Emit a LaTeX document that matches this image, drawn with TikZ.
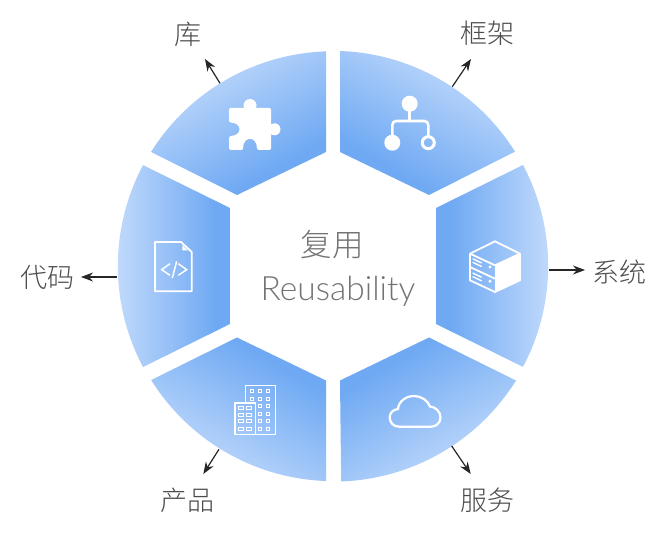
\documentclass[tikz,border=0pt]{standalone}
\usepackage{fontspec}
\usetikzlibrary{arrows.meta}
\newfontfamily\cjk{Noto Sans CJK SC Light}
\newfontfamily\latinlight{Lato Light}
\definecolor{lightblue}{HTML}{C6DDFC}
\definecolor{darkblue}{HTML}{6FA9F3}
\pgfdeclareverticalshading{sectorfade}{100bp}{color(0bp)=(darkblue); color(25bp)=(darkblue); color(31bp)=(darkblue); color(75bp)=(lightblue); color(100bp)=(lightblue)}
\tikzset{
	outlabel/.style={inner sep=0pt, text=black!70, font=\fontsize{27}{27}\selectfont\cjk},
	pointer/.style={line width=1.2pt, color=black!85, -{Stealth[length=12pt, width=9pt]}},
	iconline/.style={draw=white, line width=1.8pt, line join=round},
	thinline/.style={draw=white, line width=1pt}
}
\begin{document}
\begin{tikzpicture}[x=1pt, y=-1pt]
	\useasboundingbox (0, 0) rectangle (670, 548);
	\foreach \ang/\sx/\sy/\arcs/\arce/\ax/\ay/\bx/\by in {
		30/151/152/212.1/268.1/326/152/237/195,
		-30/340/51/271.9/327.9/429/195/340/152,
		-90/523/165/332/388/436/324/436/208,
		-150/516/380.5/32/88/340/380.5/429/337.5,
		150/326/481/92/148/237/337.5/326/380.5,
		90/143/367/152/208/230/208/230/324}
		\shade[shading=sectorfade, shading angle=\ang] (\sx, \sy) arc[start angle=\arcs, end angle=\arce, radius=215] -- (\ax, \ay) -- (\bx, \by) -- cycle;

	\node[inner sep=0pt, text=black!55, font=\fontsize{31.5}{31.5}\selectfont\cjk] (titlecn) at (332, 245) {复用};
	\node[inner sep=0pt, text=black!55, font=\fontsize{33.5}{33.5}\selectfont\latinlight] (titleen) at (338, 291) {Reusability};

	\foreach \name/\txt/\lx/\ly/\fx/\fy/\px/\py in {
		lib/库/188/34/220/83.3/205/59,
		frame/框架/487/33/452.3/86.7/471/59,
		system/系统/619/272/549/270/585/270,
		code/代码/47/277/117/277/81/277,
		product/产品/187.5/500/219/449.3/203.3/474,
		service/服务/487/500/451.7/446/470.7/474}
	{
		\node[outlabel] (\name) at (\lx, \ly) {\txt};
		\coordinate (\name from) at (\fx, \fy);
		\coordinate (\name tip) at (\px, \py);
		\draw[pointer] (\name from) -- (\name tip);
	}

	% puzzle
	\fill[white, rounded corners=1.5pt] (229, 108) -- (271, 108) -- (271, 150) -- (257, 150) .. controls (257, 135.5) and (243, 135.5) .. (243, 150) -- (229, 150) -- (229, 136) .. controls (242.5, 136) and (242.5, 122.5) .. (229, 122.5) -- cycle;
	\fill[white] (250, 105.5) circle[radius=6.5];
	\fill[white] (274.5, 129.3) circle[radius=6];

	% tree
	\fill[white] (409.7, 103.7) circle[radius=8];
	\fill[white] (392.3, 142.7) circle[radius=8];
	\draw[white, line width=3pt] (428.3, 142.7) circle[radius=6];
	\draw[white, line width=2.6pt, rounded corners=4pt] (392.3, 140) -- (392.3, 121) -- (428.3, 121) -- (428.3, 136);
	\draw[white, line width=2.6pt] (409.7, 108) -- (409.7, 121);

	% server
	\draw[iconline] (495, 241.3) -- (520, 253.7) -- (520, 280.3) -- (495, 292) -- (470, 280.3) -- (470, 253.7) -- cycle;
	\draw[iconline] (470, 253.7) -- (495, 265.3) -- (520, 253.7);
	\fill[white] (495, 265.3) -- (520, 253.7) -- (520, 280.3) -- (495, 292) -- cycle;
	\draw[iconline] (470, 267) -- (495, 278.7);
	\foreach \dy in {0, 14.3} {
		\draw[thinline, line width=1.4pt] (472.7, 258.7+\dy) -- (481.7, 263+\dy);
		\draw[thinline, line width=1.4pt] (472.7, 262.3+\dy) -- (481.7, 266.6+\dy);
		\fill[white] (490, 267+\dy) circle[radius=1.6];
	}

	% file
	\draw[iconline] (155, 242) -- (181, 242) -- (191.7, 252) -- (191.7, 291.3) -- (155, 291.3) -- cycle;
	\fill[white] (182.3, 245.3) -- (182.3, 250.3) -- (187.7, 250.3) -- cycle;
	\draw[thinline, line width=1.5pt] (170, 263.7) -- (161.7, 269.7) -- (170, 275.3);
	\draw[thinline, line width=1.5pt] (178.3, 263.7) -- (186.7, 269.7) -- (178.3, 275.3);
	\draw[thinline, line width=1.5pt] (176.7, 261.3) -- (172.3, 278);

	% buildings
	\draw[iconline, line width=1.5pt] (245.7, 403) -- (245.7, 385.3) -- (275.7, 385.3) -- (275.7, 434.7) -- (255.7, 434.7);
	\draw[iconline, line width=1.5pt] (235, 403) rectangle (255.7, 434.7);
	\foreach \wy in {391.3, 398.7, 406.3, 413.7, 421.3, 428.7} {
		\draw[thinline] (260-1.6, \wy-1.6) rectangle (260+1.6, \wy+1.6);
		\draw[thinline] (268.3-1.6, \wy-1.6) rectangle (268.3+1.6, \wy+1.6);
	}
	\foreach \wy in {391.3, 398.7}
		\draw[thinline] (251.7-1.6, \wy-1.6) rectangle (251.7+1.6, \wy+1.6);
	\foreach \wy in {408, 414.7, 421.3, 428.7} {
		\draw[thinline] (240.7-2.6, \wy-1.5) rectangle (240.7+2.6, \wy+1.5);
		\draw[thinline] (249.3-2.6, \wy-1.5) rectangle (249.3+2.6, \wy+1.5);
	}

	% cloud
	\draw[white, line width=2.2pt] (399, 426.7) .. controls (393, 426.7) and (389.7, 422) .. (389.7, 417.5) .. controls (389.7, 413) and (393, 409.5) .. (398, 409) .. controls (398.5, 401.5) and (406, 396) .. (414, 396) .. controls (421, 396) and (428, 400.5) .. (430, 406.5) .. controls (436, 407) and (440.5, 412) .. (440.5, 417.5) .. controls (440.5, 423) and (436, 426.7) .. (431, 426.7) -- cycle;
\end{tikzpicture}
\end{document}
